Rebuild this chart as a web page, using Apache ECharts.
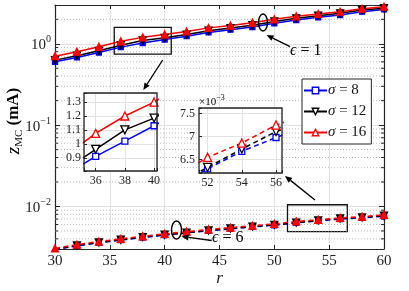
<!DOCTYPE html>
<html><head><meta charset="utf-8">
<script src="https://cdn.jsdelivr.net/npm/echarts@6/dist/echarts.min.js"></script>
<style>html,body{margin:0;padding:0;background:#fff}#c{width:409px;height:291px}</style>
</head><body><div id="c"></div>
<script>
// ---------------- data ----------------
const r = [30,32,34,36,38,40,42,44,46,48,50,52,54,56,58,60];
const eps1_sigma8  = [0.60,0.68,0.78,0.91,1.02,1.13,1.24,1.38,1.49,1.61,1.79,1.96,2.12,2.26,2.48,2.65];
const eps1_sigma12 = [0.63,0.715,0.82,0.96,1.10,1.185,1.30,1.45,1.56,1.69,1.88,2.06,2.22,2.37,2.60,2.74];
const eps1_sigma16 = [0.705,0.80,0.92,1.075,1.2,1.3,1.42,1.57,1.68,1.82,2.0,2.18,2.33,2.48,2.70,2.86];
const eps6_sigma8  = [0.00295,0.00328,0.00357,0.00386,0.00415,0.00444,0.00473,0.00502,0.0053,0.0056,0.00588,0.0063,0.00668,0.00698,0.00725,0.0076];
const eps6_sigma12 = [0.00298,0.00332,0.00361,0.0039,0.0042,0.00449,0.00478,0.00507,0.00536,0.00566,0.00595,0.00633,0.00673,0.00711,0.00732,0.0077];
const eps6_sigma16 = [0.00305,0.0034,0.0037,0.0040,0.0043,0.0046,0.0049,0.0052,0.0055,0.0058,0.0061,0.00655,0.00686,0.00725,0.0075,0.0079];
const seriesNames = ['σ = 8','σ = 12','σ = 16'];
const minorY = [0.004,0.005,0.006,0.007,0.008,0.009,0.02,0.03,0.04,0.05,0.06,0.07,0.08,0.09,0.2,0.3,0.4,0.5,0.6,0.7,0.8,0.9,2];
const zoomBoxes = [[35.4,1.59,40.6,0.746],[51.2,0.0105,56.65,0.00491]];

// ---------------- styling ----------------
const SERIF = 'Liberation Serif, DejaVu Serif, serif';
const AX = '#262626';
const GRIDC = '#e2e2e2';
const colors = ['#0000ff','#000000','#ff0000'];
const symbols = ['rect','triangle','triangle'];
const rotates = [0,180,0];

function pairs(vals){ return r.map((x,i)=>[x, vals[i]]); }

function lineSeries(k, vals, dashed, xi, yi, z, big){
  const sz = big ? [6,8,8][k] : [5,7,7][k];
  return {
    type:'line', name: seriesNames[k], data: pairs(vals), xAxisIndex:xi, yAxisIndex:yi,
    symbol: symbols[k], symbolRotate: rotates[k], symbolSize: sz, z: z,
    lineStyle:{color:colors[k], width:1.5, type: dashed ? [5,3.5] : 'solid'},
    itemStyle:{color: big ? '#fff' : colors[k], borderColor:colors[k], borderWidth:1.3},
    emphasis:{disabled:true}, animation:false, clip:true
  };
}

const eps1 = [eps1_sigma8, eps1_sigma12, eps1_sigma16];
const eps6 = [eps6_sigma8, eps6_sigma12, eps6_sigma16];

const series = [];
// minor log grid + minor ticks (main)
series.push({
  type:'custom', xAxisIndex:0, yAxisIndex:0, z:1, silent:true, animation:false,
  data: minorY.map(v=>[30, v]),
  renderItem: function(params, api){
    const v = api.value(1);
    const a = api.coord([30, v]), b = api.coord([60, v]);
    return {type:'group', children:[
      {type:'line', shape:{x1:a[0],y1:a[1],x2:b[0],y2:b[1]}, style:{stroke:'#bdbdbd', lineWidth:1, lineDash:[1,2]}},
      {type:'line', shape:{x1:a[0],y1:a[1],x2:a[0]+3,y2:a[1]}, style:{stroke:AX, lineWidth:1}},
      {type:'line', shape:{x1:b[0]-3,y1:b[1],x2:b[0],y2:b[1]}, style:{stroke:AX, lineWidth:1}}
    ]};
  }
});
for (let k=0;k<3;k++) series.push(lineSeries(k, eps1[k], false, 0, 0, 3, false));
for (let k=0;k<3;k++) series.push(lineSeries(k, eps6[k], true, 0, 0, 3, false));
series[1].markArea = {
  silent:true,
  itemStyle:{color:'rgba(0,0,0,0)', borderColor:'#111', borderWidth:1.3},
  data: zoomBoxes.map(b=>[{coord:[b[0],b[1]]},{coord:[b[2],b[3]]}])
};
for (let k=0;k<3;k++) series.push(lineSeries(k, eps1[k], false, 2, 2, 22, true));
for (let k=0;k<3;k++) series.push(lineSeries(k, eps6[k], true, 3, 3, 22, true));

function logFmt(v){
  const e = Math.log10(v), k = Math.round(e);
  if (Math.abs(e-k) > 1e-6) return '';
  return '{b|10}{s|' + (k<0 ? '−'+(-k) : k) + '}';
}

const insetAxisCommon = {
  z:20,
  axisLine:{show:false},
  axisTick:{show:true, inside:true, length:3, lineStyle:{color:AX}},
  splitLine:{show:true, lineStyle:{color:GRIDC, width:1}},
};

function arrow(x1,y1,x2,y2){
  const ang = Math.atan2(y2-y1, x2-x1), L=7, W=3;
  const bx = x2 - L*Math.cos(ang), by = y2 - L*Math.sin(ang);
  const px = -Math.sin(ang)*W, py = Math.cos(ang)*W;
  return [
    {type:'line', z:30, shape:{x1:x1,y1:y1,x2:bx,y2:by}, style:{stroke:'#000', lineWidth:1.3}},
    {type:'polygon', z:30, shape:{points:[[x2,y2],[bx+px,by+py],[bx-px,by-py]]}, style:{fill:'#000'}}
  ];
}

const option = {
  backgroundColor:'#fff',
  animation:false,
  grid:[
    {left:55, top:5, width:329, height:244},
    {left:84, top:93, width:73, height:78},
    {left:199, top:108, width:83, height:65}
  ],
  xAxis:[
    {type:'value', gridIndex:0, min:30, max:60, interval:5, position:'bottom',
     axisLine:{show:true, onZero:false, lineStyle:{color:AX, width:1.2}},
     axisTick:{show:true, inside:true, length:4, lineStyle:{color:AX}},
     axisLabel:{color:'#222', fontFamily:SERIF, fontSize:15, margin:5},
     splitLine:{show:true, lineStyle:{color:GRIDC}}},
    {type:'value', gridIndex:0, min:30, max:60, interval:5, position:'top',
     axisLine:{show:true, onZero:false, lineStyle:{color:AX, width:1.2}},
     axisTick:{show:true, inside:true, length:4, lineStyle:{color:AX}},
     axisLabel:{show:false}, splitLine:{show:false}},
    Object.assign({type:'value', gridIndex:1, min:35.2, max:40.2, splitNumber:3,
     axisLabel:{color:'#222', fontFamily:SERIF, fontSize:12, margin:4,
       formatter:v=> (Math.abs(v/2-Math.round(v/2))<1e-6 ? String(v) : '')}}, insetAxisCommon),
    Object.assign({type:'value', gridIndex:2, min:51.5, max:56.35, splitNumber:3,
     axisLabel:{color:'#222', fontFamily:SERIF, fontSize:12, margin:4,
       formatter:v=> (Math.abs(v/2-Math.round(v/2))<1e-6 ? String(v) : '')}}, insetAxisCommon)
  ],
  yAxis:[
    {type:'log', logBase:10, gridIndex:0, min:0.003, max:3, position:'left',
     axisLine:{show:true, onZero:false, lineStyle:{color:AX, width:1.2}},
     axisTick:{show:true, inside:true, length:5, lineStyle:{color:AX}},
     axisLabel:{formatter:logFmt, margin:4,
       rich:{b:{fontFamily:SERIF, fontSize:15, color:'#222', lineHeight:18, verticalAlign:'bottom'},
             s:{fontFamily:SERIF, fontSize:10, color:'#222', lineHeight:10, verticalAlign:'top'}}},
     splitLine:{show:true, lineStyle:{color:GRIDC}}},
    {type:'log', logBase:10, gridIndex:0, min:0.003, max:3, position:'right',
     axisLine:{show:true, onZero:false, lineStyle:{color:AX, width:1.2}},
     axisTick:{show:true, inside:true, length:5, lineStyle:{color:AX}},
     axisLabel:{show:false}, splitLine:{show:false}},
    Object.assign({type:'value', gridIndex:1, min:0.805, max:1.365, splitNumber:5,
     axisLabel:{color:'#222', fontFamily:SERIF, fontSize:12, margin:3,
       formatter:v=> (Math.abs(v*10-Math.round(v*10))<1e-6 ? String(Math.round(v*10)/10) : '')}}, insetAxisCommon),
    Object.assign({type:'value', gridIndex:2, min:0.00621, max:0.00762, splitNumber:3,
     axisLabel:{color:'#222', fontFamily:SERIF, fontSize:12, margin:4,
       formatter:v=> (Math.abs(v*2000-Math.round(v*2000))<1e-6 ? String(Math.round(v*10000)/10) : '')}}, insetAxisCommon)
  ],
  legend:{
    show:true, orient:'vertical', left:302, top:79, data:seriesNames,
    backgroundColor:'#fff', borderColor:AX, borderWidth:1, padding:[4,5,4,1],
    itemWidth:23, itemHeight:8, itemGap:6, z:15, selectedMode:false,
    itemStyle:{color:'#fff', borderWidth:1.4},
    formatter: n => '{i|σ}{t|' + n.slice(1) + '}',
    textStyle:{padding:[0,0,0,-4], rich:{
      i:{fontFamily:SERIF, fontStyle:'italic', fontSize:15, color:'#111'},
      t:{fontFamily:SERIF, fontSize:15, color:'#111'}}}
  },
  graphic:[
    {type:'rect', z:5, shape:{x:84,y:93,width:73,height:78}, style:{fill:'#fff'}},
    {type:'rect', z:5, shape:{x:199,y:108,width:83,height:65}, style:{fill:'#fff'}},
    {type:'rect', z:25, shape:{x:84,y:93,width:73,height:78}, style:{fill:null, stroke:AX, lineWidth:1.3}},
    {type:'rect', z:25, shape:{x:199,y:108,width:83,height:65}, style:{fill:null, stroke:AX, lineWidth:1.3}},
    {type:'text', z:25, x:199, y:101, style:{text:'{a|×10}{s|−3}', verticalAlign:'middle',
      rich:{a:{fontFamily:SERIF, fontSize:11, color:'#333', lineHeight:14, verticalAlign:'bottom'},
            s:{fontFamily:SERIF, fontSize:8, color:'#333', lineHeight:8, verticalAlign:'top'}}}},
    {type:'ellipse', z:30, shape:{cx:263, cy:22.5, rx:4.5, ry:8.5}, style:{fill:null, stroke:'#000', lineWidth:1.5}},
    {type:'ellipse', z:30, shape:{cx:176.5, cy:230, rx:5, ry:9}, style:{fill:null, stroke:'#000', lineWidth:1.5}},
    ...arrow(290,46.7,266.5,35),
    ...arrow(211.7,240.5,181.5,236.5),
    ...arrow(162.7,60,143.3,90),
    ...arrow(315,200,285,176),
    {type:'text', z:30, x:290, y:51, style:{text:'{i|ϵ}{t| = 1}', verticalAlign:'middle',
      rich:{i:{fontFamily:SERIF, fontStyle:'italic', fontSize:16, color:'#111'}, t:{fontFamily:SERIF, fontSize:16, color:'#111'}}}},
    {type:'text', z:30, x:212, y:238, style:{text:'{i|ϵ}{t| = 6}', verticalAlign:'middle',
      rich:{i:{fontFamily:SERIF, fontStyle:'italic', fontSize:16, color:'#111'}, t:{fontFamily:SERIF, fontSize:16, color:'#111'}}}},
    {type:'text', z:30, x:219.5, y:279, style:{text:'r', align:'center', verticalAlign:'middle',
      fontFamily:SERIF, fontStyle:'italic', fontSize:17, fill:'#222'}},
    {type:'text', z:30, x:14, y:121, rotation:Math.PI/2, style:{text:'{z|z}{s|MC}{b| (mA)}', align:'center', verticalAlign:'middle',
      rich:{z:{fontFamily:SERIF, fontStyle:'italic', fontSize:19, color:'#222', lineHeight:22, verticalAlign:'middle'},
            s:{fontFamily:SERIF, fontSize:11, color:'#222', lineHeight:11, verticalAlign:'bottom'},
            b:{fontFamily:SERIF, fontWeight:'bold', fontSize:17, color:'#222', lineHeight:22, verticalAlign:'middle'}}}}
  ],
  series: series
};

const chart = echarts.init(document.getElementById('c'), null, {renderer:'canvas'});
chart.setOption(option);
</script></body></html>
